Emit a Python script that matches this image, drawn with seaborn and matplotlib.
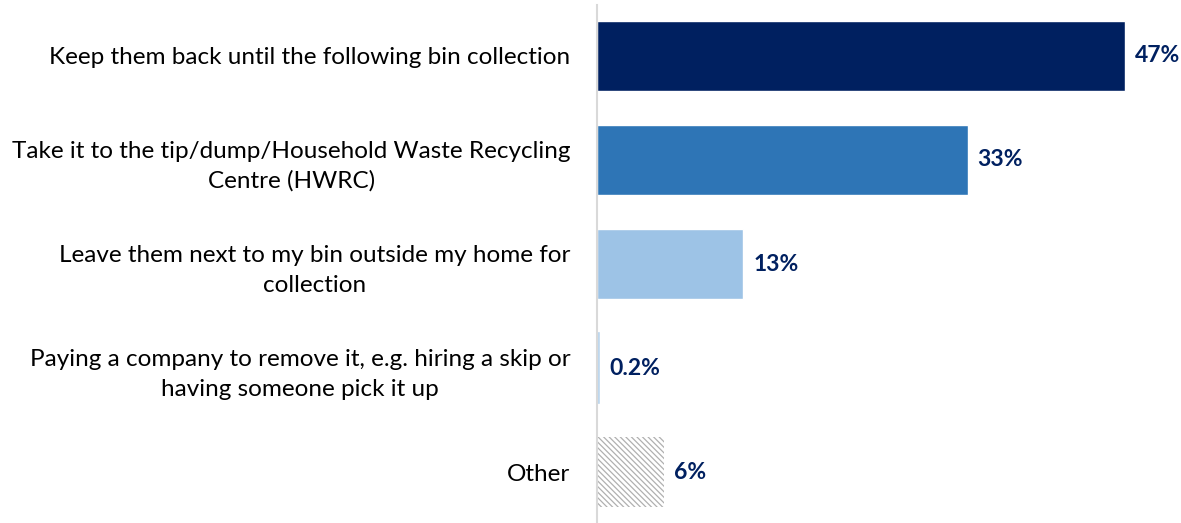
import seaborn as sns
import matplotlib.pyplot as plt
import pandas as pd

# Survey answers and shares (%)
answers = [
    'Keep them back until the following bin collection',
    'Take it to the tip/dump/Household Waste Recycling\nCentre (HWRC)',
    'Leave them next to my bin outside my home for\ncollection',
    'Paying a company to remove it, e.g. hiring a skip or\nhaving someone pick it up',
    'Other',
]
shares = [47, 33, 13, 0.2, 6]
value_labels = ['47%', '33%', '13%', '0.2%', '6%']
bar_colors = ['#002060', '#2E75B6', '#9DC3E6', '#BDD7EE', '#FFFFFF']

df = pd.DataFrame({'answer': answers, 'share': shares})

sns.set_style('white')
plt.rcParams['font.family'] = ['Lato', 'DejaVu Sans']
plt.rcParams['hatch.color'] = '#B0B0B0'
plt.rcParams['hatch.linewidth'] = 0.9

fig = plt.figure(figsize=(11.81, 5.23), dpi=100)
ax = fig.add_axes([0.5055, 0.0, 0.4945, 0.9904])

sns.barplot(data=df, x='share', y='answer', hue='answer', palette=bar_colors,
            legend=False, width=0.673, ax=ax, saturation=1)

# hatched "Other" bar
ax.patches[4].set_hatch('\\' * 6)
ax.patches[4].set_edgecolor('#B0B0B0')
ax.patches[4].set_linewidth(0)
# tiny bar still visible
ax.patches[3].set_edgecolor('#BDD7EE')
ax.patches[3].set_linewidth(1.2)

for i, (v, lab) in enumerate(zip(shares, value_labels)):
    ax.text(v + 0.9, i, lab, va='center', ha='left', fontsize=16.5,
            fontweight='bold', color='#002060')

ax.set_xlim(0, 52)
ax.set_ylim(4.49, -0.49)
ax.set_xlabel('')
ax.set_ylabel('')
ax.set_xticks([])
ax.tick_params(axis='y', length=0, pad=19, labelsize=17.5)
for lbl in ax.get_yticklabels():
    lbl.set_color('#000000')
    lbl.set_horizontalalignment('right')
    lbl.set_multialignment('center')
    lbl.set_linespacing(1.5)

for s in ['top', 'right', 'bottom']:
    ax.spines[s].set_visible(False)
ax.spines['left'].set_color('#D9D9D9')
ax.spines['left'].set_linewidth(1.5)

fig.savefig('out.png', dpi=100)
